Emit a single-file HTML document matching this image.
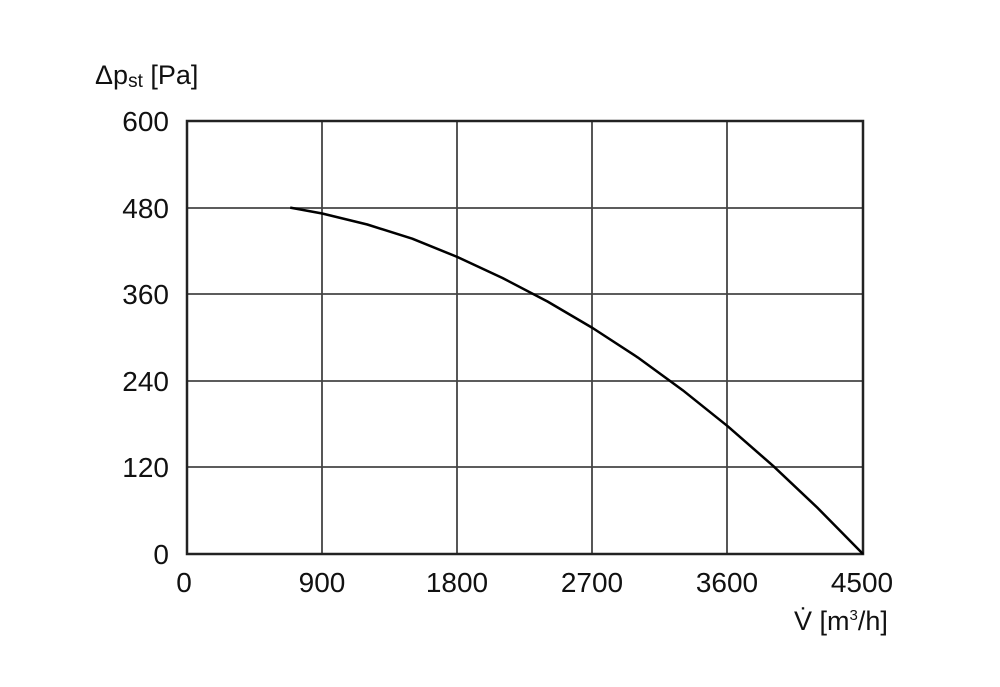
<!DOCTYPE html>
<html><head><style>body{margin:0;background:#fff}</style></head><body>
<svg width="1000" height="682" xmlns="http://www.w3.org/2000/svg" font-family="Liberation Sans, sans-serif" fill="#111">
<g stroke="#444" stroke-width="1.8">
<line x1="322" y1="121" x2="322" y2="554"/><line x1="457" y1="121" x2="457" y2="554"/>
<line x1="592" y1="121" x2="592" y2="554"/><line x1="727" y1="121" x2="727" y2="554"/>
<line x1="187" y1="208" x2="863" y2="208"/><line x1="187" y1="294" x2="863" y2="294"/>
<line x1="187" y1="381" x2="863" y2="381"/><line x1="187" y1="467" x2="863" y2="467"/>
</g>
<rect x="187" y="121" width="676" height="433" fill="none" stroke="#222" stroke-width="2.5"/>
<polyline points="290.2,207.6 322.2,213.5 367.3,224.5 412.3,238.7 457.4,257 502.5,278 547.5,301.5 592.6,328 637.7,357.4 682.7,390.2 727.8,426.3 772.9,465.7 817.9,508.2 863,554" fill="none" stroke="#000" stroke-width="2.5" stroke-linejoin="round"/>
<g font-size="28" text-anchor="end">
<text x="169" y="131">600</text><text x="169" y="218">480</text><text x="169" y="304">360</text>
<text x="169" y="391">240</text><text x="169" y="477">120</text><text x="169" y="564">0</text>
</g>
<g font-size="28" text-anchor="middle">
<text x="184" y="592">0</text><text x="322" y="592">900</text><text x="457" y="592">1800</text>
<text x="592" y="592">2700</text><text x="727" y="592">3600</text><text x="862" y="592">4500</text>
</g>
<text x="95" y="84" font-size="27">Δp<tspan font-size="19" dy="3">st</tspan><tspan dy="-3"> [Pa]</tspan></text>
<text x="794" y="630" font-size="27">V̇ [m<tspan font-size="15" dy="-10">3</tspan><tspan dy="10">/h]</tspan></text>
</svg>
</body></html>
